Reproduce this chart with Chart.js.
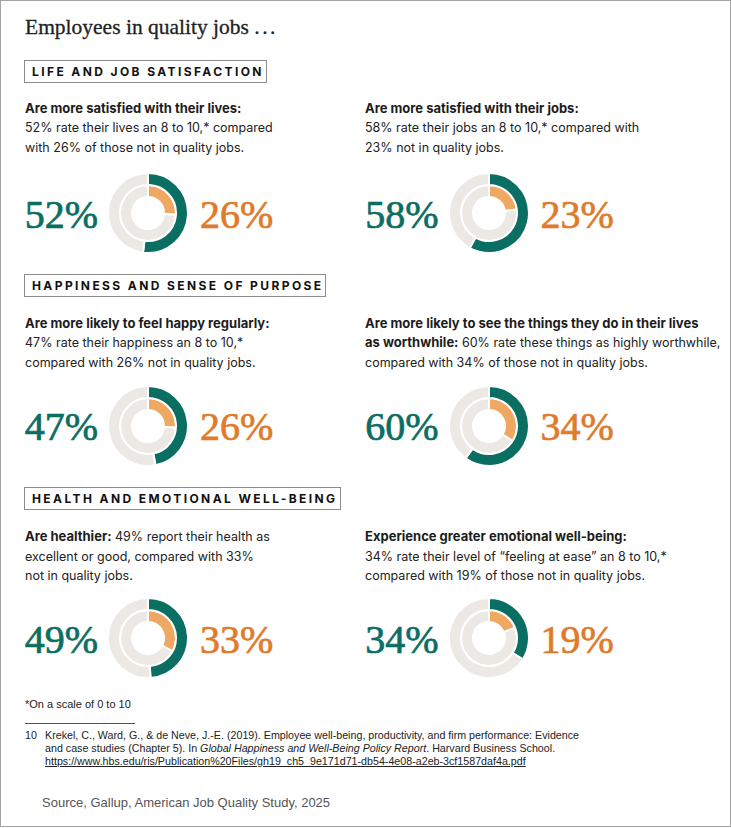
<!DOCTYPE html>
<html>
<head>
<meta charset="utf-8">
<script src="https://cdn.jsdelivr.net/npm/chart.js@4/dist/chart.umd.min.js"></script>
<style>
  html, body { margin: 0; padding: 0; background: #fff; }
  #page { position: relative; width: 731px; height: 828px; overflow: hidden; }
  #frame { position: absolute; left: 0; top: 0; width: 731px; height: 827px; box-sizing: border-box; border: 1px solid #a3a3a3; }
  .title { position: absolute; left: 25px; top: 13px; font-family: "Liberation Serif", serif; font-size: 21.5px; line-height: 28px; color: #222; white-space: nowrap; -webkit-text-stroke: 0.3px #222; }
  .title .dots { letter-spacing: 2.5px; }
  .sec { position: absolute; left: 24px; height: 23px; box-sizing: border-box; border: 1px solid #8c8c8c; font-family: Inter, "Noto Sans", sans-serif; font-weight: 700; font-size: 12px; letter-spacing: 2.4px; line-height: 21px; padding: 0 2px 0 7px; color: #111; white-space: nowrap; }
  .txt { position: absolute; font-family: Inter, "Noto Sans", sans-serif; font-size: 12.5px; letter-spacing: 0px; line-height: 19.5px; color: #222; white-space: nowrap; }
  .txt b { font-weight: 700; font-size: 13px; color: #1c1c1c; }
  .pct { position: absolute; font-family: "Liberation Serif", serif; font-size: 40px; line-height: 40px; white-space: nowrap; }
  .pq { color: #0b6e63; text-align: right; width: 90px; -webkit-text-stroke: 0.7px #0b6e63; }
  .pn { color: #e07b2c; -webkit-text-stroke: 0.7px #e07b2c; }
  .donut { position: absolute; width: 82px; height: 82px; }
  .note { position: absolute; left: 25px; font-family: "Liberation Sans Narrow", "Liberation Sans", sans-serif; font-size: 11px; color: #222; white-space: nowrap; }
  .ref { position: absolute; left: 25px; top: 729px; font-family: "Liberation Sans Narrow", "Liberation Sans", sans-serif; font-size: 10.7px; line-height: 13px; color: #222; white-space: nowrap; }
  .ref .num { position: absolute; left: 0; top: 0; }
  .ref .body { position: absolute; left: 20px; top: 0; }
  .ref a { color: #222; text-decoration: underline; }
  .rule { position: absolute; left: 25px; top: 723px; width: 110px; height: 1px; background: #555; }
  .src { position: absolute; left: 42px; top: 795px; font-family: "Liberation Sans", sans-serif; font-size: 13px; color: #555; white-space: nowrap; }
</style>
</head>
<body>
<div id="page">
  <div id="frame"></div>
  <div class="title">Employees in quality jobs <span class="dots">...</span></div>
  <div id="content"></div>
  <div class="note" style="top:698px">*On a scale of 0 to 10</div>
  <div class="rule"></div>
  <div class="ref">
    <div class="num">10</div>
    <div class="body">Krekel, C., Ward, G., &amp; de Neve, J.-E. (2019). Employee well-being, productivity, and firm performance: Evidence<br>and case studies (Chapter 5). In <i>Global Happiness and Well-Being Policy Report</i>. Harvard Business School.<br><a>https://www.hbs.edu/ris/Publication%20Files/gh19_ch5_9e171d71-db54-4e08-a2eb-3cf1587daf4a.pdf</a></div>
  </div>
  <div class="src">Source, Gallup, American Job Quality Study, 2025</div>
</div>
<script>
// ---- data ----
const sections = ["LIFE AND JOB SATISFACTION", "HAPPINESS AND SENSE OF PURPOSE", "HEALTH AND EMOTIONAL WELL-BEING"];
const headlines = [
  "Are more satisfied with their lives:",
  "Are more satisfied with their jobs:",
  "Are more likely to feel happy regularly:",
  "Are more likely to see the things they do in their lives<br>as worthwhile:",
  "Are healthier:",
  "Experience greater emotional well-being:"
];
const descriptions = [
  "<br>52% rate their lives an 8 to 10,* compared<br>with 26% of those not in quality jobs.",
  "<br>58% rate their jobs an 8 to 10,* compared with<br>23% not in quality jobs.",
  "<br>47% rate their happiness an 8 to 10,*<br>compared with 26% not in quality jobs.",
  " 60% rate these things as highly worthwhile,<br>compared with 34% of those not in quality jobs.",
  " 49% report their health as<br>excellent or good, compared with 33%<br>not in quality jobs.",
  "<br>34% rate their level of “feeling at ease” an 8 to 10,*<br>compared with 19% of those not in quality jobs."
];
const qualityJobs = [52, 58, 47, 60, 49, 34];
const notQualityJobs = [26, 23, 26, 34, 33, 19];

// ---- layout ----
const TEAL = "#0b6e63", ORANGE = "#efa862", GRAY = "#ece8e4";
const secTops = [60, 274, 487];
const textTops = [98.8, 313.5, 527.2];
const donutY = [212.5, 425.5, 638];
const pctTops = [194.8, 406.5, 619.8];
const colX = [25, 365];
const donutX = [148, 488.5];

const content = document.getElementById("content");
sections.forEach((s, i) => {
  const d = document.createElement("div");
  d.className = "sec";
  d.style.top = secTops[i] + "px";
  d.textContent = s;
  content.appendChild(d);
});

qualityJobs.forEach((q, k) => {
  const row = Math.floor(k / 2), col = k % 2;
  const n = notQualityJobs[k];
  const t = document.createElement("div");
  t.className = "txt";
  t.style.left = colX[col] + "px";
  t.style.top = textTops[row] + "px";
  t.innerHTML = "<b>" + headlines[k] + "</b>" + descriptions[k];
  content.appendChild(t);

  const cx = donutX[col], cy = donutY[row];
  const p1 = document.createElement("div");
  p1.className = "pct pq";
  p1.style.left = (cx - 50 - 90) + "px";
  p1.style.top = pctTops[row] + "px";
  p1.textContent = q + "%";
  content.appendChild(p1);
  const p2 = document.createElement("div");
  p2.className = "pct pn";
  p2.style.left = (cx + 52) + "px";
  p2.style.top = pctTops[row] + "px";
  p2.textContent = n + "%";
  content.appendChild(p2);

  const box = document.createElement("div");
  box.className = "donut";
  box.style.left = (cx - 41) + "px";
  box.style.top = (cy - 41) + "px";
  const cv = document.createElement("canvas");
  cv.width = 82; cv.height = 82;
  box.appendChild(cv);
  content.appendChild(box);

  new Chart(cv, {
    type: "doughnut",
    data: {
      labels: ["In quality jobs / not", "Remainder"],
      datasets: [
        { data: [q, 100 - q], backgroundColor: [TEAL, GRAY], borderColor: "#ffffff", borderWidth: 2 },
        { data: [n, 100 - n], backgroundColor: [ORANGE, GRAY], borderColor: "#ffffff", borderWidth: 2 }
      ]
    },
    options: {
      responsive: false,
      animation: false,
      devicePixelRatio: 1,
      cutout: "40%",
      layout: { padding: 0 },
      plugins: { legend: { display: false }, tooltip: { enabled: false } }
    }
  });
});
</script>
</body>
</html>
